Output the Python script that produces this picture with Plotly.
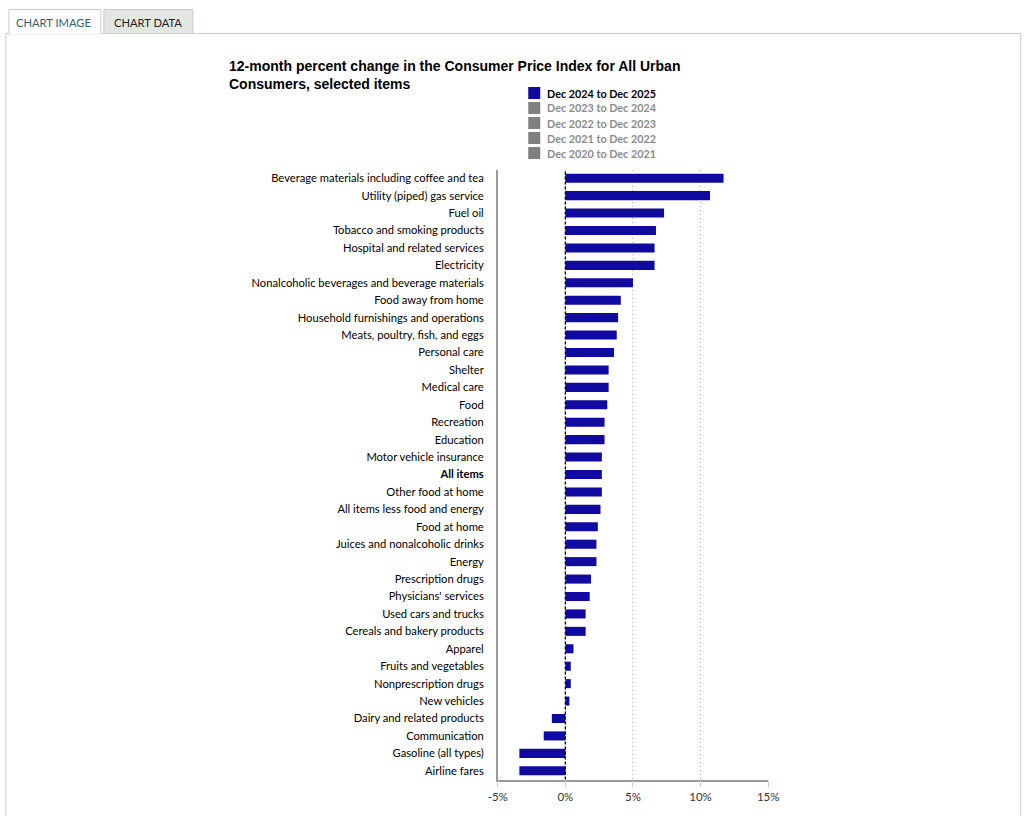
import plotly.graph_objects as go

# ---------------- data ----------------
categories = [
    "Beverage materials including coffee and tea",
    "Utility (piped) gas service",
    "Fuel oil",
    "Tobacco and smoking products",
    "Hospital and related services",
    "Electricity",
    "Nonalcoholic beverages and beverage materials",
    "Food away from home",
    "Household furnishings and operations",
    "Meats, poultry, fish, and eggs",
    "Personal care",
    "Shelter",
    "Medical care",
    "Food",
    "Recreation",
    "Education",
    "Motor vehicle insurance",
    "All items",
    "Other food at home",
    "All items less food and energy",
    "Food at home",
    "Juices and nonalcoholic drinks",
    "Energy",
    "Prescription drugs",
    "Physicians' services",
    "Used cars and trucks",
    "Cereals and bakery products",
    "Apparel",
    "Fruits and vegetables",
    "Nonprescription drugs",
    "New vehicles",
    "Dairy and related products",
    "Communication",
    "Gasoline (all types)",
    "Airline fares",
]
values_2025 = [
    11.7, 10.7, 7.3, 6.7, 6.6, 6.6, 5.0, 4.1, 3.9, 3.8, 3.6,
    3.2, 3.2, 3.1, 2.9, 2.9, 2.7, 2.7, 2.7, 2.6, 2.4, 2.3, 2.3,
    1.9, 1.8, 1.5, 1.5, 0.6, 0.4, 0.4, 0.3, -1.0, -1.6, -3.4, -3.4,
]
series_names = [
    "Dec 2024 to Dec 2025",
    "Dec 2023 to Dec 2024",
    "Dec 2022 to Dec 2023",
    "Dec 2021 to Dec 2022",
    "Dec 2020 to Dec 2021",
]
x_tick_vals = [-5, 0, 5, 10, 15]
x_tick_text = ["-5%", "0%", "5%", "10%", "15%"]
title_text = "12-month percent change in the Consumer Price Index for All Urban<br>Consumers, selected items"
tab_labels = ["CHART IMAGE", "CHART DATA"]

# ---------------- helpers ----------------
W, H = 1034, 816
# the page renders the figure slightly narrower with a small left offset;
# map target pixel positions to paper fractions accordingly
X_OFF, X_SPAN = 9.6, 1013.3
def px(x):
    return (x - X_OFF) / X_SPAN
def py(y):
    return 1 - y / H

BAR_COLOR = "#100aa0"
LABEL_FONT = "Lato, Open Sans, Noto Sans, DejaVu Sans, sans-serif"

ticktext = ["<b>%s</b>" % c if c == "All items" else c for c in categories]

fig = go.Figure()
fig.add_trace(go.Bar(
    x=values_2025,
    y=categories,
    orientation="h",
    marker=dict(color=BAR_COLOR, line=dict(width=0)),
    width=0.52,
    name=series_names[0],
    showlegend=False,
    hoverinfo="x+y",
))

shapes = []
annotations = []

# page frame: content box and tabs
shapes.append(dict(type="rect", xref="paper", yref="paper",
                   x0=px(5.5), x1=px(1020.5), y0=py(830), y1=py(33.5),
                   line=dict(color="#cccccc", width=1), fillcolor="rgba(0,0,0,0)", layer="below"))
shapes.append(dict(type="rect", xref="paper", yref="paper",
                   x0=px(8.5), x1=px(100.5), y0=py(34), y1=py(9.5),
                   line=dict(color="#cccccc", width=1), fillcolor="#ffffff", layer="below"))
shapes.append(dict(type="line", xref="paper", yref="paper",
                   x0=px(9), x1=px(100), y0=py(33.5), y1=py(33.5),
                   line=dict(color="#ffffff", width=2), layer="below"))
shapes.append(dict(type="rect", xref="paper", yref="paper",
                   x0=px(103.5), x1=px(192.5), y0=py(33.5), y1=py(9.5),
                   line=dict(color="#cccccc", width=1), fillcolor="#e2e7e2", layer="below"))
annotations.append(dict(text=tab_labels[0], xref="paper", yref="paper",
                        x=px(53.5), y=py(22), xanchor="center", yanchor="middle",
                        showarrow=False, font=dict(family=LABEL_FONT, size=11.2, color="#2e5f73")))
annotations.append(dict(text=tab_labels[1], xref="paper", yref="paper",
                        x=px(148), y=py(22), xanchor="center", yanchor="middle",
                        showarrow=False, font=dict(family=LABEL_FONT, size=11.2, color="#222222")))

# title
annotations.append(dict(text="<b>" + title_text + "</b>", xref="paper", yref="paper",
                        x=px(226.5), y=py(56), xanchor="left", yanchor="top", align="left",
                        showarrow=False,
                        font=dict(family="Liberation Sans, Arial, sans-serif", size=14, color="#000000")))

# custom legend
for i, name in enumerate(series_names):
    yc = 93 + i * 15
    active = i == 0
    shapes.append(dict(type="rect", xref="paper", yref="paper",
                       x0=px(528), x1=px(540), y0=py(yc + 6), y1=py(yc - 6),
                       line=dict(width=0), fillcolor=BAR_COLOR if active else "#808080"))
    annotations.append(dict(text="<b>%s</b>" % name, xref="paper", yref="paper",
                            x=px(545), y=py(yc), xanchor="left", yanchor="middle",
                            showarrow=False,
                            font=dict(family=LABEL_FONT, size=10.8,
                                      color="#000000" if active else "#8c8c8c")))

# zero line (dashed)
shapes.append(dict(type="line", xref="x", yref="y domain", x0=0, x1=0, y0=0, y1=1,
                   line=dict(color="#000000", width=1.3, dash="3px,2px"), layer="above"))

fig.update_layout(
    width=W, height=H, autosize=False,
    margin=dict(l=0, r=0, t=0, b=0),
    paper_bgcolor="#ffffff",
    plot_bgcolor="#ffffff",
    shapes=shapes,
    annotations=annotations,
    showlegend=False,
    xaxis=dict(
        domain=[px(497.5), px(768)],
        range=[-5, 15],
        tickvals=x_tick_vals,
        ticktext=x_tick_text,
        showgrid=True, gridcolor="#bbbbbb", griddash="1px,3px", gridwidth=1,
        zeroline=False,
        showline=True, linecolor="#9a9a9a", linewidth=1.5,
        ticks="outside", ticklen=6, tickcolor="#c0d0e0", tickwidth=1,
        tickfont=dict(family=LABEL_FONT, size=11.5, color="#333333"),
        fixedrange=True,
    ),
    yaxis=dict(
        domain=[py(779.5), py(169.5)],
        categoryorder="array",
        categoryarray=categories,
        autorange="reversed",
        tickmode="array",
        tickvals=categories,
        ticktext=ticktext,
        showgrid=False, zeroline=False,
        showline=True, linecolor="#9a9a9a", linewidth=1.5,
        ticks="", ticklabelstandoff=10,
        tickfont=dict(family=LABEL_FONT, size=11.2, color="#000000"),
        fixedrange=True,
    ),
    font=dict(family=LABEL_FONT),
)

fig.write_html("out.html", config={"responsive": False})
